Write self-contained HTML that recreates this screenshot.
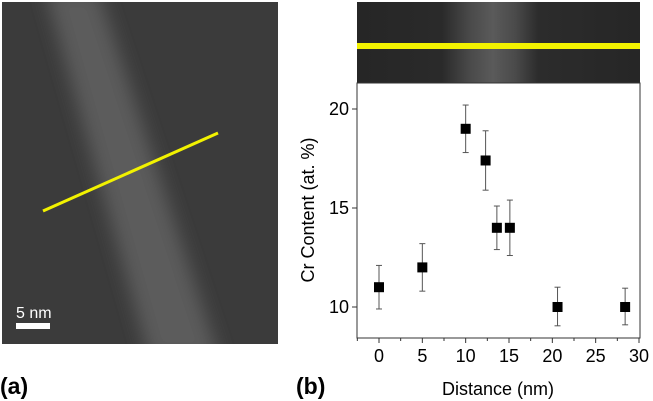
<!DOCTYPE html>
<html><head><meta charset="utf-8"><style>
html,body{margin:0;padding:0;background:#fff;width:653px;height:401px;overflow:hidden}
svg{display:block;font-family:"Liberation Sans",sans-serif}
</style></head><body>
<svg id="fig" width="653" height="401" viewBox="0 0 653 401">
<defs>
<linearGradient id="strip" x1="0" y1="0" x2="1" y2="0">
<stop offset="0" stop-color="#262626"/><stop offset="0.3" stop-color="#2a2a2a"/><stop offset="0.4" stop-color="#4a4a4a"/><stop offset="0.48" stop-color="#5a5a5a"/><stop offset="0.56" stop-color="#4a4a4a"/><stop offset="0.64" stop-color="#2c2c2c"/><stop offset="1" stop-color="#262626"/>
</linearGradient>
<filter id="blur" x="-50%" y="-10%" width="200%" height="120%"><feGaussianBlur stdDeviation="9"/></filter>
<clipPath id="clipA"><rect x="2" y="2" width="276" height="342"/></clipPath>
</defs>
<g clip-path="url(#clipA)">
<rect x="2" y="2" width="276" height="342" fill="#3b3b3b"/>
<polygon points="45,-10 98,-10 220,360 150,360" fill="#5c5c5c" filter="url(#blur)"/>
<line x1="43" y1="211" x2="218" y2="133" stroke="#f2f200" stroke-width="3"/>
<text x="16" y="318" fill="#fff" font-size="16">5 nm</text>
<rect x="16" y="323" width="34" height="6" fill="#fff"/>
</g>
<text x="0" y="394" font-size="23" font-weight="bold">(a)</text>
<g>
<rect x="357" y="2" width="283" height="81" fill="url(#strip)"/>
<rect x="357" y="43" width="283" height="6" fill="#f2f200"/>
</g>
<rect x="357" y="83" width="283" height="255" fill="#fff" stroke="#333" stroke-width="1"/>
<g id="marks"></g>
<g id="axes"></g>
<text transform="translate(314,210) rotate(-90)" text-anchor="middle" font-size="18">Cr Content (at. %)</text>
<text x="498" y="395" text-anchor="middle" font-size="18">Distance (nm)</text>
<text x="296" y="394" font-size="23" font-weight="bold">(b)</text>
</svg>
<script>
const distances=[0,5,10,12.3,13.6,15.1,20.6,28.4];
const crContent=[11,12,19,17.4,14,14,10,10];
const errUpper=[12.1,13.2,20.2,18.9,15.1,15.4,11,10.95];
const errLower=[9.9,10.8,17.8,15.9,12.9,12.6,9.05,9.1];
const xTicks=[0,5,10,15,20,25,30];
const yTicks=[10,15,20];
const NS="http://www.w3.org/2000/svg";
const X=v=>379+(v-0)*(639-379)/30;
const Y=v=>307-(v-10)*(307-109)/10;
const marks=document.getElementById('marks'),axes=document.getElementById('axes');
function mk(tag,a,p){const e=document.createElementNS(NS,tag);for(const k in a)e.setAttribute(k,a[k]);p.appendChild(e);return e;}
distances.forEach((d,i)=>{
 const x=X(d);
 const g=mk('g',{},marks);
 
 
 mk('line',{x1:x,x2:x,y1:Y(errUpper[i]),y2:Y(errLower[i]),stroke:'#555','stroke-width':1},g);
 mk('line',{x1:x-3,x2:x+3,y1:Y(errUpper[i]),y2:Y(errUpper[i]),stroke:'#555','stroke-width':1},g);
 mk('line',{x1:x-3,x2:x+3,y1:Y(errLower[i]),y2:Y(errLower[i]),stroke:'#555','stroke-width':1},g);
 mk('rect',{x:x-5,y:Y(crContent[i])-5,width:10,height:10,fill:'#000'},g);
});
xTicks.forEach((t,i)=>{
 const x=X(t);
 const l=mk('line',{x1:x,x2:x,y1:338,y2:343,stroke:'#333'},axes);
 
 
 const tx=mk('text',{x:x,y:362,'text-anchor':'middle','font-size':18},axes);
 tx.textContent=t;
 
 
 if(i<xTicks.length-1){const m=X(t+2.5);mk('line',{x1:m,x2:m,y1:338,y2:341,stroke:'#333'},axes);}
});
mk('line',{x1:X(-2.5),x2:X(-2.5),y1:338,y2:341,stroke:'#333'},axes);
yTicks.forEach(t=>{
 const y=Y(t);
 mk('line',{x1:352,x2:357,y1:y,y2:y,stroke:'#333'},axes);
 const tx=mk('text',{x:349,y:y+6,'text-anchor':'end','font-size':18},axes);
 tx.textContent=t;
 
 
});
</script>
</body></html>
